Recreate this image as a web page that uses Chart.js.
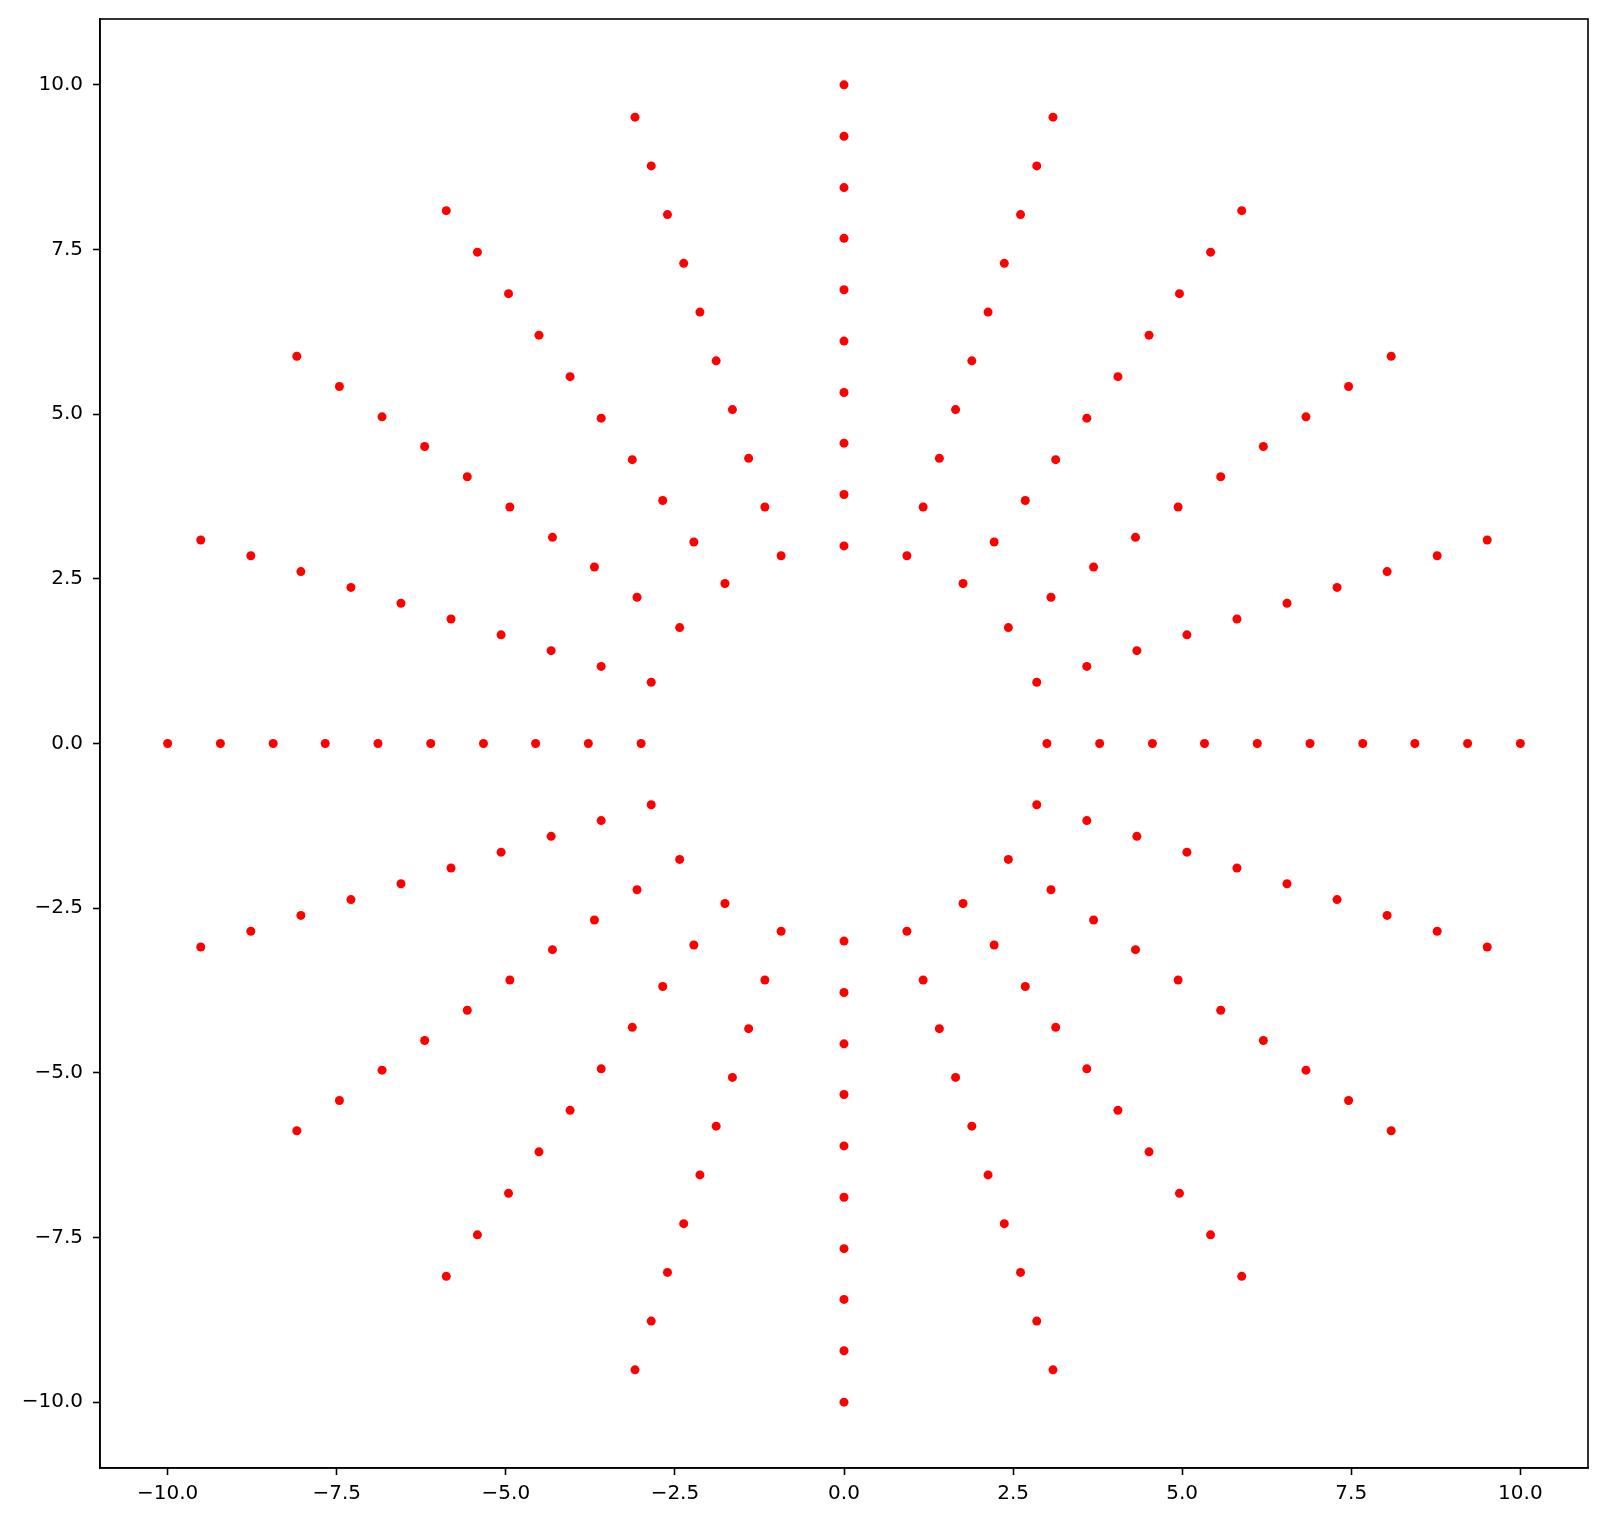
<!DOCTYPE html>
<html>
<head>
<meta charset="utf-8">
<script src="https://cdn.jsdelivr.net/npm/chart.js@4.4.0/dist/chart.umd.min.js"></script>
<style>
  body { margin: 0; background: #fff; }
  canvas { display: block; }
</style>
</head>
<body>
<canvas id="myChart" width="1607" height="1523"></canvas>
<script>
  // point coordinates, one row per ray (0deg, 18deg, ... 342deg)
  const pointsX = [
    3.00, 3.78, 4.56, 5.33, 6.11, 6.89, 7.67, 8.44, 9.22, 10.00,
    2.85, 3.59, 4.33, 5.07, 5.81, 6.55, 7.29, 8.03, 8.77, 9.51,
    2.43, 3.06, 3.69, 4.31, 4.94, 5.57, 6.20, 6.83, 7.46, 8.09,
    1.76, 2.22, 2.68, 3.13, 3.59, 4.05, 4.51, 4.96, 5.42, 5.88,
    0.93, 1.17, 1.41, 1.65, 1.89, 2.13, 2.37, 2.61, 2.85, 3.09,
    0.00, 0.00, 0.00, 0.00, 0.00, 0.00, 0.00, 0.00, 0.00, 0.00,
    -0.93, -1.17, -1.41, -1.65, -1.89, -2.13, -2.37, -2.61, -2.85, -3.09,
    -1.76, -2.22, -2.68, -3.13, -3.59, -4.05, -4.51, -4.96, -5.42, -5.88,
    -2.43, -3.06, -3.69, -4.31, -4.94, -5.57, -6.20, -6.83, -7.46, -8.09,
    -2.85, -3.59, -4.33, -5.07, -5.81, -6.55, -7.29, -8.03, -8.77, -9.51,
    -3.00, -3.78, -4.56, -5.33, -6.11, -6.89, -7.67, -8.44, -9.22, -10.00,
    -2.85, -3.59, -4.33, -5.07, -5.81, -6.55, -7.29, -8.03, -8.77, -9.51,
    -2.43, -3.06, -3.69, -4.31, -4.94, -5.57, -6.20, -6.83, -7.46, -8.09,
    -1.76, -2.22, -2.68, -3.13, -3.59, -4.05, -4.51, -4.96, -5.42, -5.88,
    -0.93, -1.17, -1.41, -1.65, -1.89, -2.13, -2.37, -2.61, -2.85, -3.09,
    0.00, 0.00, 0.00, 0.00, 0.00, 0.00, 0.00, 0.00, 0.00, 0.00,
    0.93, 1.17, 1.41, 1.65, 1.89, 2.13, 2.37, 2.61, 2.85, 3.09,
    1.76, 2.22, 2.68, 3.13, 3.59, 4.05, 4.51, 4.96, 5.42, 5.88,
    2.43, 3.06, 3.69, 4.31, 4.94, 5.57, 6.20, 6.83, 7.46, 8.09,
    2.85, 3.59, 4.33, 5.07, 5.81, 6.55, 7.29, 8.03, 8.77, 9.51,
  ];

  const pointsY = [
    0.00, 0.00, 0.00, 0.00, 0.00, 0.00, 0.00, 0.00, 0.00, 0.00,
    0.93, 1.17, 1.41, 1.65, 1.89, 2.13, 2.37, 2.61, 2.85, 3.09,
    1.76, 2.22, 2.68, 3.13, 3.59, 4.05, 4.51, 4.96, 5.42, 5.88,
    2.43, 3.06, 3.69, 4.31, 4.94, 5.57, 6.20, 6.83, 7.46, 8.09,
    2.85, 3.59, 4.33, 5.07, 5.81, 6.55, 7.29, 8.03, 8.77, 9.51,
    3.00, 3.78, 4.56, 5.33, 6.11, 6.89, 7.67, 8.44, 9.22, 10.00,
    2.85, 3.59, 4.33, 5.07, 5.81, 6.55, 7.29, 8.03, 8.77, 9.51,
    2.43, 3.06, 3.69, 4.31, 4.94, 5.57, 6.20, 6.83, 7.46, 8.09,
    1.76, 2.22, 2.68, 3.13, 3.59, 4.05, 4.51, 4.96, 5.42, 5.88,
    0.93, 1.17, 1.41, 1.65, 1.89, 2.13, 2.37, 2.61, 2.85, 3.09,
    0.00, 0.00, 0.00, 0.00, 0.00, 0.00, 0.00, 0.00, 0.00, 0.00,
    -0.93, -1.17, -1.41, -1.65, -1.89, -2.13, -2.37, -2.61, -2.85, -3.09,
    -1.76, -2.22, -2.68, -3.13, -3.59, -4.05, -4.51, -4.96, -5.42, -5.88,
    -2.43, -3.06, -3.69, -4.31, -4.94, -5.57, -6.20, -6.83, -7.46, -8.09,
    -2.85, -3.59, -4.33, -5.07, -5.81, -6.55, -7.29, -8.03, -8.77, -9.51,
    -3.00, -3.78, -4.56, -5.33, -6.11, -6.89, -7.67, -8.44, -9.22, -10.00,
    -2.85, -3.59, -4.33, -5.07, -5.81, -6.55, -7.29, -8.03, -8.77, -9.51,
    -2.43, -3.06, -3.69, -4.31, -4.94, -5.57, -6.20, -6.83, -7.46, -8.09,
    -1.76, -2.22, -2.68, -3.13, -3.59, -4.05, -4.51, -4.96, -5.42, -5.88,
    -0.93, -1.17, -1.41, -1.65, -1.89, -2.13, -2.37, -2.61, -2.85, -3.09,
  ];

  const xTicks = [-10, -7.5, -5, -2.5, 0, 2.5, 5, 7.5, 10];
  const yTicks = [-10, -7.5, -5, -2.5, 0, 2.5, 5, 7.5, 10];

  const points = pointsX.map((x, i) => ({ x: x, y: pointsY[i] }));

  // matplotlib style labels with a real minus sign
  function tickLabel(value) {
    return Number(value).toFixed(1).replace("-", "\u2212");
  }

  // draws the top and right spines too
  const frameBox = {
    id: "frameBox",
    afterDraw(chart) {
      const a = chart.chartArea;
      const c = chart.ctx;
      c.save();
      c.strokeStyle = "#000";
      c.lineWidth = 1.6;
      c.strokeRect(a.left, a.top, a.right - a.left, a.bottom - a.top);
      c.restore();
    },
  };

  const ctx = document.getElementById("myChart");
  const chart = new Chart(ctx, {
    type: "scatter",
    data: {
      datasets: [
        {
          data: points,
          backgroundColor: "#ff0000",
          borderWidth: 0,
          pointRadius: 4.5,
          pointHoverRadius: 4.5,
        },
      ],
    },
    options: {
      responsive: false,
      animation: false,
      events: [],
      layout: {
        padding: { left: 0, top: 19, right: 19, bottom: 0 },
      },
      plugins: {
        legend: { display: false },
        tooltip: { enabled: false },
      },
      scales: {
        x: {
          type: "linear",
          min: -11,
          max: 11,
          afterBuildTicks: (scale) => {
            scale.ticks = xTicks.map((v) => ({ value: v }));
          },
          afterFit: (scale) => {
            scale.height = 55;
            scale.paddingLeft = 0;
            scale.paddingRight = 0;
          },
          ticks: {
            callback: tickLabel,
            color: "#000",
            padding: 7,
            maxRotation: 0,
            autoSkip: false,
            font: { family: "DejaVu Sans", size: 20 },
          },
          grid: {
            drawOnChartArea: false,
            drawTicks: true,
            tickLength: 7,
            tickWidth: 1.6,
            color: "#000",
          },
          border: { display: true, color: "#000", width: 1.6 },
        },
        y: {
          type: "linear",
          min: -11,
          max: 11,
          afterBuildTicks: (scale) => {
            scale.ticks = yTicks.map((v) => ({ value: v }));
          },
          afterFit: (scale) => {
            scale.width = 100;
            scale.paddingTop = 0;
            scale.paddingBottom = 0;
          },
          ticks: {
            callback: tickLabel,
            color: "#000",
            padding: 10,
            autoSkip: false,
            font: { family: "DejaVu Sans", size: 20 },
          },
          grid: {
            drawOnChartArea: false,
            drawTicks: true,
            tickLength: 7,
            tickWidth: 1.6,
            color: "#000",
          },
          border: { display: true, color: "#000", width: 1.6 },
        },
      },
    },
    plugins: [frameBox],
  });
</script>
</body>
</html>
